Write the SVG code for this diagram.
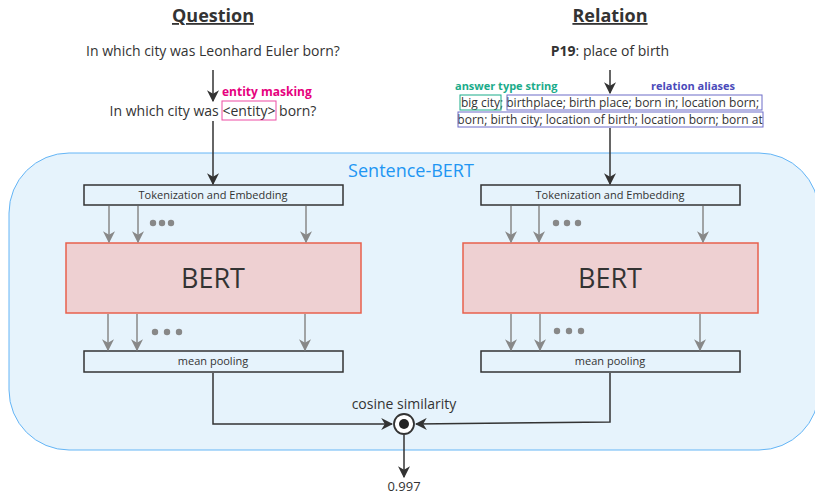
<svg xmlns="http://www.w3.org/2000/svg" width="815" height="496" viewBox="0 0 815 496">
<style>
text{font-family:"Open Sans","Noto Sans","Liberation Sans",sans-serif;fill:#333}
.title{font-size:18px;font-weight:bold;text-decoration:underline}
.q{font-size:14px}
.small{font-size:11px}
.bert{font-size:27px}
.box{fill:none;stroke:#333;stroke-width:1.5}
.bertbox{fill:#eed0d2;stroke:#e8604c;stroke-width:1.5}
.dark{stroke:#333;stroke-width:1.5;fill:none}
.grey{stroke:#888;stroke-width:1.5;fill:none}
.dot{fill:#888}
</style>
<defs>
<marker id="ad" viewBox="0 0 10 10" refX="9" refY="5" markerWidth="12" markerHeight="12" markerUnits="userSpaceOnUse" orient="auto"><path d="M0,0 L10,5 L0,10 L3,5 Z" fill="#333"/></marker>
<marker id="ag" viewBox="0 0 10 10" refX="9" refY="5" markerWidth="12" markerHeight="12" markerUnits="userSpaceOnUse" orient="auto"><path d="M0,0 L10,5 L0,10 L3,5 Z" fill="#888"/></marker>
</defs>
<g id="container"><rect x="9" y="153" width="810" height="297" rx="60" fill="#e6f3fc" stroke="#64b5f6" stroke-width="1"/>
<text x="411" y="177" font-size="18" style="fill:#2196f3" text-anchor="middle">Sentence-BERT</text></g>
<g id="question">
<text class="title" x="213" y="22" text-anchor="middle">Question</text>
<text class="q" x="213" y="56" text-anchor="middle">In which city was Leonhard Euler born?</text>
<text x="222" y="96" font-size="12" font-weight="bold" style="fill:#e6007e">entity masking</text>
<text class="q" x="213" y="116" text-anchor="middle">In which city was <tspan>&lt;entity&gt;</tspan> born?</text>
<rect x="222" y="101" width="54" height="19" fill="none" stroke="#e6007e" stroke-opacity="0.7" stroke-width="1"/>
</g>
<g id="relation">
<text class="title" x="610" y="22" text-anchor="middle">Relation</text>
<text class="q" x="610" y="56" text-anchor="middle"><tspan font-weight="bold">P19</tspan>: place of birth</text>
<text x="455" y="90" font-size="11" font-weight="bold" style="fill:#1aab8a">answer type string</text>
<text x="651" y="90" font-size="11" font-weight="bold" style="fill:#4a4aba">relation aliases</text>
<text x="610" y="107" font-size="12" text-anchor="middle">big city; birthplace; birth place; born in; location born;</text>
<text x="610" y="124" font-size="12" text-anchor="middle">born; birth city; location of birth; location born; born at</text>
<rect x="460" y="95" width="41" height="15" fill="none" stroke="#1aab8a" stroke-width="1"/>
<rect x="507" y="95" width="255" height="15" fill="none" stroke="#6c6cc8" stroke-width="1"/>
<rect x="458" y="112" width="305" height="15" fill="none" stroke="#6c6cc8" stroke-width="1"/>
</g>
<g id="tok-left"><rect class="box" x="84" y="185" width="259" height="20"/><text class="small" x="213" y="199" text-anchor="middle">Tokenization and Embedding</text></g>
<g id="tok-right"><rect class="box" x="481" y="185" width="259" height="20"/><text class="small" x="610" y="199" text-anchor="middle">Tokenization and Embedding</text></g>
<g id="bert-left"><rect class="bertbox" x="66" y="243" width="295" height="70"/><text class="bert" x="213" y="288" text-anchor="middle">BERT</text></g>
<g id="bert-right"><rect class="bertbox" x="463" y="243" width="295" height="70"/><text class="bert" x="610" y="288" text-anchor="middle">BERT</text></g>
<g id="pool-left"><rect class="box" x="84" y="351" width="259" height="21"/><text class="small" x="213" y="365" text-anchor="middle">mean pooling</text></g>
<g id="pool-right"><rect class="box" x="481" y="351" width="259" height="21"/><text class="small" x="610" y="365" text-anchor="middle">mean pooling</text></g>
<g id="cosine"><text x="404" y="409" font-size="14" text-anchor="middle">cosine similarity</text>
<circle cx="404" cy="424" r="10" fill="#fff" stroke="#333" stroke-width="1.8"/><circle cx="404" cy="424" r="5" fill="#222"/></g>
<g id="result"><text x="404" y="491" font-size="13" text-anchor="middle">0.997</text></g>
<g id="connectors">
<line class="dark" x1="213" y1="70" x2="213" y2="101" marker-end="url(#ad)"/>
<line class="dark" x1="213" y1="121" x2="213" y2="184" marker-end="url(#ad)"/>
<line class="dark" x1="610" y1="70" x2="610" y2="93" marker-end="url(#ad)"/>
<line class="dark" x1="610" y1="128" x2="610" y2="184" marker-end="url(#ad)"/>
<line class="grey" x1="109" y1="206" x2="109" y2="242" marker-end="url(#ag)"/>
<line class="grey" x1="138" y1="206" x2="138" y2="242" marker-end="url(#ag)"/>
<line class="grey" x1="306" y1="206" x2="306" y2="242" marker-end="url(#ag)"/>
<line class="grey" x1="511" y1="206" x2="511" y2="242" marker-end="url(#ag)"/>
<line class="grey" x1="539" y1="206" x2="539" y2="242" marker-end="url(#ag)"/>
<line class="grey" x1="703" y1="206" x2="703" y2="242" marker-end="url(#ag)"/>
<line class="grey" x1="108" y1="314" x2="108" y2="350" marker-end="url(#ag)"/>
<line class="grey" x1="137" y1="314" x2="137" y2="350" marker-end="url(#ag)"/>
<line class="grey" x1="305" y1="314" x2="305" y2="350" marker-end="url(#ag)"/>
<line class="grey" x1="511" y1="314" x2="511" y2="350" marker-end="url(#ag)"/>
<line class="grey" x1="540" y1="314" x2="540" y2="350" marker-end="url(#ag)"/>
<line class="grey" x1="700" y1="314" x2="700" y2="350" marker-end="url(#ag)"/>
<circle class="dot" cx="153" cy="223" r="3.2"/><circle class="dot" cx="162" cy="223" r="3.2"/><circle class="dot" cx="171" cy="223" r="3.2"/>
<circle class="dot" cx="556" cy="223" r="3.2"/><circle class="dot" cx="567" cy="223" r="3.2"/><circle class="dot" cx="578" cy="223" r="3.2"/>
<circle class="dot" cx="155" cy="332" r="3.2"/><circle class="dot" cx="167" cy="332" r="3.2"/><circle class="dot" cx="179" cy="332" r="3.2"/>
<circle class="dot" cx="557" cy="331" r="3.2"/><circle class="dot" cx="569" cy="331" r="3.2"/><circle class="dot" cx="581" cy="331" r="3.2"/>
<polyline class="dark" points="213,373 213,424 392,424" marker-end="url(#ad)"/>
<polyline class="dark" points="610,373 610,422 416,424" marker-end="url(#ad)"/>
<line class="dark" x1="404" y1="435" x2="404" y2="477" marker-end="url(#ad)"/>
</g>
</svg>
